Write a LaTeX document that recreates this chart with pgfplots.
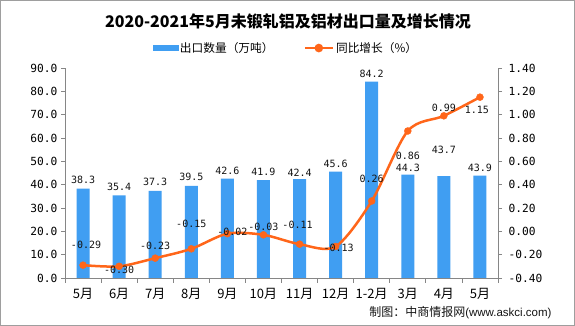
\documentclass[border=0pt]{standalone}
\usepackage{pgfplots}
\pgfplotsset{compat=1.18}
\usepackage{pgfplotstable}
\usepackage{fontspec}
\setmainfont{Noto Sans CJK SC}
\newfontfamily\mono{DejaVu Sans Mono}
\newfontfamily\arial{Liberation Sans}
\definecolor{barblue}{RGB}{64,158,242}
\definecolor{lineorange}{RGB}{255,102,26}
\definecolor{axgray}{RGB}{134,134,134}
\definecolor{txt}{RGB}{20,20,20}

\pgfplotstableread{
x qty bdy
0 38.3 9
1 35.4 9
2 37.3 9
3 39.5 9
4 42.6 8
5 41.9 8
6 42.4 6
7 45.6 8
8 84.2 8
9 44.3 7
10 43.7 26
11 43.9 8
}\bartable

\pgfplotstableread{
x g ldx ldy
0 -0.29 3 20
1 -0.30 0 -4
2 -0.23 0 12
3 -0.15 0 25
4 -0.02 5 2
5 -0.03 0 7.5
6 -0.11 -2 19
7 -0.13 3 -1
8 0.26 0 22
9 0.86 0 -25
10 0.99 0 8
11 1.15 -3 -12.5
}\linetable

\begin{document}
\begin{tikzpicture}
\useasboundingbox (0,0) rectangle (575pt,326pt);
\fill[white] (0,0) rectangle (575pt,326pt);
\draw[axgray!80, line width=1pt] (0.5pt,0.5pt) rectangle (574.5pt,325.5pt);

\node[font=\bfseries\fontsize{16}{16}\selectfont, text=black] at (288pt,304.3pt) {2020-2021年5月未锻轧铝及铝材出口量及增长情况};

\node[anchor=east, text=txt, inner sep=0pt] at (551.7pt,13.3pt) {\fontsize{12}{12}\selectfont 制图：中商情报网\arial\fontsize{11.5}{12}\selectfont(www.askci.com)};

\begin{axis}[
  at={(65pt,48pt)}, anchor=south west,
  scale only axis, width=433pt, height=210pt,
  xmin=-0.5, xmax=11.5, ymin=0, ymax=90,
  clip=false,
  axis x line*=bottom, axis y line*=left,
  axis line style={axgray, line width=0.8pt},
  tick align=outside,
  xtick={0,...,11},
  xticklabels={5月,6月,7月,8月,9月,10月,11月,12月,1-2月,3月,4月,5月},
  major x tick style={draw=none},
  minor xtick={-0.5,0.5,...,11.5},
  minor tick length=5pt,
  minor x tick style={axgray, line width=0.8pt},
  major tick length=4pt,
  ytick={0,10,20,30,40,50,60,70,80,90},
  y tick style={axgray, line width=0.8pt},
  x tick label style={font=\fontsize{13}{13}\selectfont, text=black, yshift=-3pt},
  y tick label style={font=\mono\fontsize{11.2}{12}\selectfont, text=black,
    /pgf/number format/.cd, fixed, fixed zerofill, precision=1, assume math mode=true},
]
\addplot[ybar, bar width=13pt, fill=barblue, draw=none,
  visualization depends on={\thisrow{bdy} \as \bdy},
  nodes near coords={\pgfmathprintnumber[fixed,fixed zerofill,precision=1,assume math mode=true]{\pgfplotspointmeta}},
  every node near coord/.append style={font=\mono\fontsize{10}{10}\selectfont, text=txt, anchor=center, yshift=\bdy pt}
] table[x=x, y=qty] {\bartable};
\end{axis}

\begin{axis}[
  at={(65pt,48pt)}, anchor=south west,
  scale only axis, width=433pt, height=210pt,
  xmin=-0.5, xmax=11.5, ymin=-0.4, ymax=1.4,
  clip=false,
  axis x line=none, axis y line*=right,
  axis line style={axgray, line width=0.8pt},
  tick align=outside,
  major tick length=4pt,
  ytick={-0.4,-0.2,0,0.2,0.4,0.6,0.8,1.0,1.2,1.4},
  y tick style={axgray, line width=0.8pt},
  y tick label style={font=\mono\fontsize{11.2}{12}\selectfont, text=black, xshift=3pt,
    /pgf/number format/.cd, fixed, fixed zerofill, precision=2, assume math mode=true},
  legend columns=2,
  legend style={at={(0.51,1.095)}, anchor=center, draw=none, fill=none,
    font=\fontsize{11.7}{12}\selectfont, text=black,
    /tikz/every even column/.append style={column sep=28pt}},
  legend cell align=left,
]
\addlegendimage{legend image code/.code={\fill[barblue] (0pt,-2.5pt) rectangle (25pt,2.5pt);}}
\addlegendentry{出口数量（万吨）}
\addplot[lineorange, line width=2.5pt, smooth, mark=*, mark size=3.5pt,
  mark options={solid, fill=lineorange, draw=lineorange, line width=0.4pt},
  legend image code/.code={\draw[lineorange, line width=2.5pt] (0pt,0pt) -- (28pt,0pt); \fill[lineorange] (14pt,0pt) circle (3pt);},
  visualization depends on={\thisrow{ldx} \as \ldx},
  visualization depends on={\thisrow{ldy} \as \ldy},
  nodes near coords={\pgfmathprintnumber[fixed,fixed zerofill,precision=2,assume math mode=true]{\pgfplotspointmeta}},
  every node near coord/.append style={font=\mono\fontsize{10}{10}\selectfont, text=txt, anchor=center, xshift=\ldx pt, yshift=\ldy pt}
] table[x=x, y=g] {\linetable};
\addlegendentry{同比增长（\%）}
\end{axis}
\end{tikzpicture}
\end{document}
